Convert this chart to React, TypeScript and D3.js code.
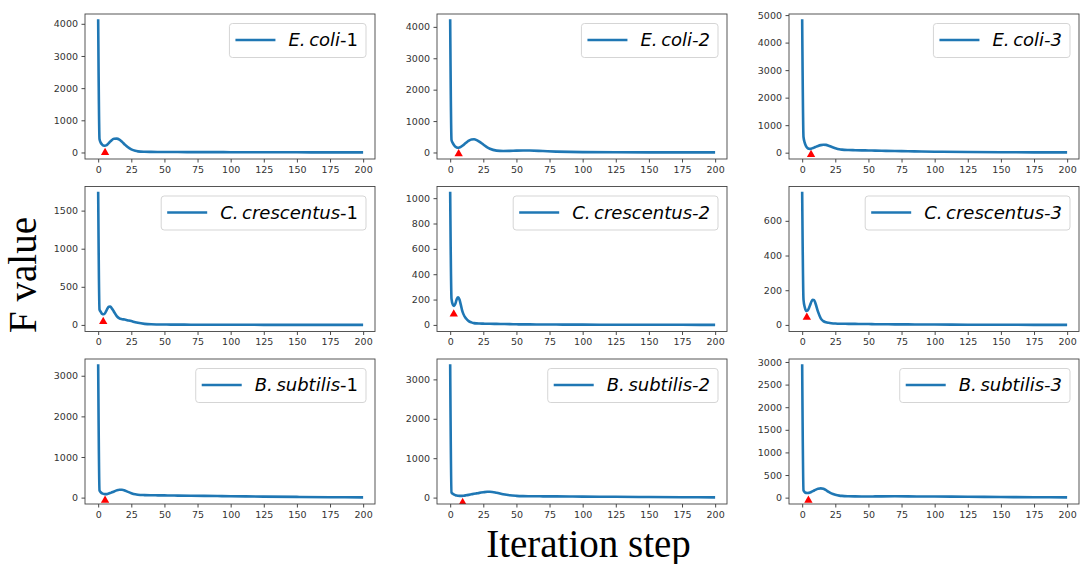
import React, { useEffect, useRef } from 'react';
import * as d3 from 'd3';

const STEPS = [0, 1, 2, 3, 4, 5, 6, 7, 8, 9, 10, 12, 14, 16, 18, 20, 22, 25, 28, 30, 35, 40, 45, 50, 55, 60, 70, 80, 90, 100, 125, 150, 175, 199];

const ECOLI_1 = [4100, 420, 300, 245, 215, 210, 220, 250, 290, 335, 375, 425, 430, 400, 330, 250, 175, 95, 50, 35, 22, 18, 16, 15, 14, 13, 12, 11, 10, 9, 7, 5, 3, 2];
const ECOLI_2 = [4200, 400, 300, 230, 185, 160, 150, 155, 175, 205, 240, 310, 375, 415, 420, 395, 345, 255, 165, 120, 60, 45, 50, 60, 65, 62, 45, 28, 18, 12, 6, 4, 3, 2];
const ECOLI_3 = [4800, 570, 350, 230, 170, 145, 140, 150, 165, 185, 205, 245, 275, 290, 285, 255, 215, 165, 125, 110, 95, 90, 85, 80, 75, 70, 60, 52, 42, 35, 24, 16, 12, 10];
const CCRES_1 = [1730, 200, 170, 145, 140, 150, 180, 215, 238, 240, 225, 170, 115, 85, 75, 70, 62, 50, 35, 27, 14, 8, 6, 5, 4, 4, 3, 3, 2, 2, 1, 1, 0, 0];
const CCRES_2 = [1040, 205, 160, 150, 170, 205, 218, 200, 160, 115, 85, 50, 30, 20, 14, 12, 11, 10, 9, 9, 8, 7, 6, 5, 4, 4, 3, 3, 2, 2, 1, 1, 1, 0];
const CCRES_3 = [760, 145, 100, 80, 82, 95, 115, 135, 145, 143, 125, 75, 38, 22, 15, 12, 10, 8, 7, 7, 6, 6, 5, 5, 4, 4, 3, 3, 2, 2, 1, 1, 0, 0];
const BSUB_1 = [3250, 180, 130, 105, 92, 86, 85, 90, 100, 112, 125, 152, 178, 192, 192, 175, 148, 110, 82, 72, 62, 58, 56, 54, 52, 50, 46, 42, 38, 34, 25, 17, 10, 5];
const BSUB_2 = [3350, 130, 95, 75, 62, 54, 48, 45, 44, 45, 48, 58, 70, 83, 96, 108, 120, 135, 148, 150, 125, 85, 58, 45, 38, 35, 32, 30, 28, 26, 20, 15, 10, 5];
const BSUB_3 = [2920, 160, 120, 105, 102, 105, 115, 128, 142, 158, 172, 195, 205, 195, 165, 125, 95, 65, 45, 38, 30, 27, 26, 26, 27, 28, 29, 28, 26, 24, 19, 14, 9, 5];

const SERIES = [ECOLI_1, ECOLI_2, ECOLI_3, CCRES_1, CCRES_2, CCRES_3, BSUB_1, BSUB_2, BSUB_3];

// Legend labels
const SPECIES_ABBR = ['E.', 'C.', 'B.'];
const SPECIES_NAME = ['coli', 'crescentus', 'subtilis'];
const REPLICATES = ['1', '2', '3'];

// Red triangle markers (iteration step, F value)
const MARK_X = [5.2, 6.4, 6.7, 3.8, 2.7, 3.5, 5.2, 9.4, 4.7];
const MARK_Y = [0, -40, -70, 45, 85, 44, -65, -128, -58];

// Tick labels
const X_TICKS = [0, 25, 50, 75, 100, 125, 150, 175, 200];
const Y_TICKS = [
  [0, 1000, 2000, 3000, 4000],
  [0, 1000, 2000, 3000, 4000],
  [0, 1000, 2000, 3000, 4000, 5000],
  [0, 500, 1000, 1500],
  [0, 200, 400, 600, 800, 1000],
  [0, 200, 400, 600],
  [0, 1000, 2000, 3000],
  [0, 1000, 2000, 3000],
  [0, 500, 1000, 1500, 2000, 2500, 3000],
];

const X_LABEL = 'Iteration step';
const Y_LABEL = 'F value';

const COL_X = [85, 437, 789];
const ROW_Y = [14, 186.5, 359];
const PW = 290;
const PH = 145;
const BLUE = '#1f77b4';

export default function App() {
  const ref = useRef<SVGSVGElement | null>(null);

  useEffect(() => {
    const svg = d3.select(ref.current);
    svg.selectAll('*').remove();
    svg.append('rect').attr('width', 1080).attr('height', 564).attr('fill', '#fff');

    SERIES.forEach((vals, i) => {
      const r = Math.floor(i / 3);
      const c = i % 3;
      const g = svg.append('g').attr('transform', `translate(${COL_X[c]},${ROW_Y[r]})`);
      const x = d3.scaleLinear().domain([-9.95, 208.95]).range([0, PW]);
      const ymax = d3.max(vals) as number;
      const ymin = d3.min(vals) as number;
      const pad = (ymax - ymin) * 0.05;
      const y = d3.scaleLinear().domain([ymin - pad, ymax + pad]).range([PH, 0]);

      const clipId = `clip${i}`;
      g.append('clipPath').attr('id', clipId).append('rect').attr('width', PW).attr('height', PH);
      const plot = g.append('g').attr('clip-path', `url(#${clipId})`);

      const pts = STEPS.map((s, k) => [s, vals[k]] as [number, number]);
      const line = d3.line<[number, number]>()
        .x(d => x(d[0]))
        .y(d => y(d[1]))
        .curve(d3.curveMonotoneX);
      plot.append('path')
        .attr('d', line(pts))
        .attr('fill', 'none')
        .attr('stroke', BLUE)
        .attr('stroke-width', 2.6)
        .attr('stroke-linejoin', 'round')
        .attr('stroke-linecap', 'square');

      const tri = d3.symbol().type(d3.symbolTriangle).size(30);
      plot.append('path')
        .attr('d', tri())
        .attr('transform', `translate(${x(MARK_X[i])},${y(MARK_Y[i])})`)
        .attr('fill', '#ff0000');

      const xa = d3.axisBottom(x).tickValues(X_TICKS).tickSize(3.5).tickPadding(3.5).tickFormat(d3.format('d'));
      const ya = d3.axisLeft(y).tickValues(Y_TICKS[i]).tickSize(3.5).tickPadding(3.5).tickFormat(d3.format('d'));
      const gx = g.append('g').attr('transform', `translate(0,${PH})`).call(xa);
      const gy = g.append('g').call(ya);
      [gx, gy].forEach(ax => {
        ax.select('.domain').remove();
        ax.selectAll('line').attr('stroke', '#333').attr('stroke-width', 0.9);
        ax.selectAll('text')
          .attr('fill', '#333')
          .style('font-family', '"DejaVu Sans", sans-serif')
          .style('font-size', '9.5px');
      });

      g.append('rect')
        .attr('width', PW).attr('height', PH)
        .attr('fill', 'none').attr('stroke', '#444').attr('stroke-width', 0.9);

      // legend
      const lg = g.append('g');
      const txt = lg.append('text')
        .style('font-family', '"DejaVu Sans", sans-serif')
        .style('font-size', '18px')
        .attr('fill', '#000');
      txt.append('tspan').style('font-style', 'italic').text(`${SPECIES_ABBR[r]}\u2009${SPECIES_NAME[r]}`);
      txt.append('tspan').style('font-style', c === 0 ? 'normal' : 'italic').text(`-${REPLICATES[c]}`);
      const tw = (txt.node() as SVGTextElement).getComputedTextLength();
      const boxW = 6 + 40 + 13 + tw + 8;
      const boxH = 34;
      const bx = PW - 9 - boxW;
      const by = 9.5;
      lg.insert('rect', 'text')
        .attr('x', bx).attr('y', by).attr('width', boxW).attr('height', boxH)
        .attr('rx', 3).attr('fill', '#fff').attr('fill-opacity', 0.8)
        .attr('stroke', '#d0d0d0').attr('stroke-width', 0.9);
      lg.insert('line', 'text')
        .attr('x1', bx + 6).attr('x2', bx + 46)
        .attr('y1', by + 16.5).attr('y2', by + 16.5)
        .attr('stroke', BLUE).attr('stroke-width', 2.6);
      txt.attr('x', bx + 59).attr('y', by + 22.5);
    });

    svg.append('text')
      .attr('x', 588.5).attr('y', 557)
      .attr('text-anchor', 'middle')
      .style('font-family', '"Liberation Serif", "Times New Roman", serif')
      .style('font-size', '39px')
      .attr('fill', '#000')
      .text(X_LABEL);

    svg.append('text')
      .attr('transform', 'translate(36,275) rotate(-90)')
      .attr('text-anchor', 'middle')
      .style('font-family', '"Liberation Serif", "Times New Roman", serif')
      .style('font-size', '39px')
      .attr('fill', '#000')
      .text(Y_LABEL);
  }, []);

  return (
    <svg
      ref={ref}
      width={1080}
      height={564}
      style={{ position: 'absolute', left: 0, top: 0, display: 'block' }}
    />
  );
}
